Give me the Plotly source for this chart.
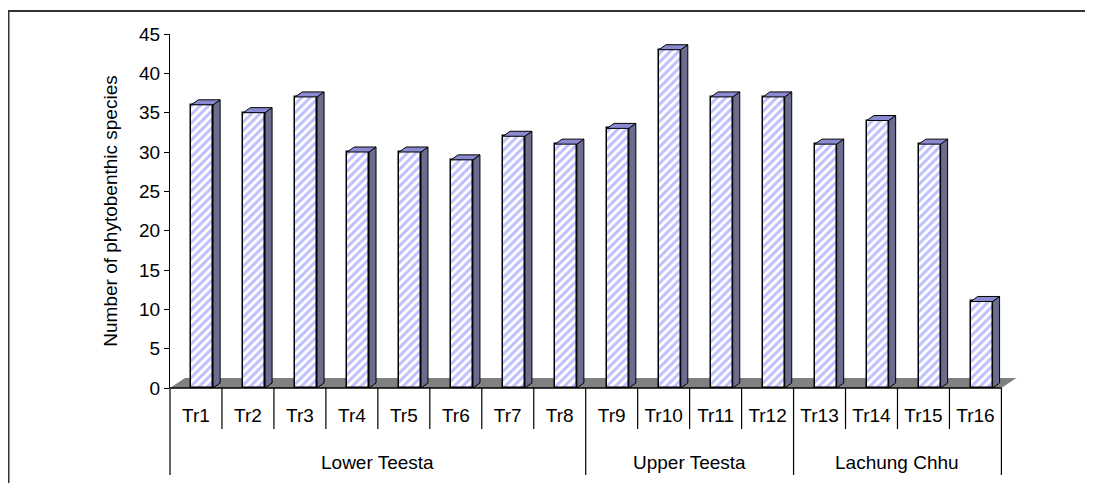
import plotly.graph_objects as go

# ---------------- data ----------------
categories = ["Tr1", "Tr2", "Tr3", "Tr4", "Tr5", "Tr6", "Tr7", "Tr8",
              "Tr9", "Tr10", "Tr11", "Tr12", "Tr13", "Tr14", "Tr15", "Tr16"]
species_counts = [36, 35, 37, 30, 30, 29, 32, 31, 33, 43, 37, 37, 31, 34, 31, 11]
groups = ["Lower Teesta", "Upper Teesta", "Lachung Chhu"]
group_sizes = [8, 4, 4]
y_ticks = [0, 5, 10, 15, 20, 25, 30, 35, 40, 45]
y_title = "Number of phytobenthic species"

# ---------------- geometry ----------------
OFF = 8                      # page body margin
W, H = 1093 - OFF, 483 - OFF
ML, MR, MT, MB = 170 - OFF, 76, 34 - OFF, 95
XMAX = 16.3
YMAX = 45
plot_w = W - ML - MR
plot_h = H - MT - MB
ux = plot_w / XMAX
uy = plot_h / YMAX


def pxx(px):
    return (px - OFF - ML) / plot_w


def pxy(py):
    return (H - MB - (py - OFF)) / plot_h


n = len(categories)
BAR_OFF, BAR_W = 0.12, 0.42
xs = [i + 0.5 + BAR_OFF for i in range(n)]
tick_pos = [i + 0.5 for i in range(n)]

bdx, bdy = 7 / ux, 5 / uy      # bar depth
fdx, fdy = 15 / ux, 10 / uy    # floor depth

FONT = "Liberation Sans, Arial, sans-serif"
FS = 19

fig = go.Figure()
fig.add_trace(go.Bar(
    x=xs, y=species_counts, width=BAR_W,
    marker=dict(color="white",
                line=dict(color="black", width=1.5),
                pattern=dict(shape="/", fgcolor="#7f7fff", bgcolor="white",
                             size=6, solidity=0.5)),
    hoverinfo="skip", showlegend=False,
))

shapes = []
# floor
shapes.append(dict(type="path", xref="x", yref="y", layer="below",
                   path=f"M 0,0 L {n},0 L {n + fdx},{fdy} L {fdx},{fdy} Z",
                   fillcolor="#808080", line=dict(width=0)))
# 3D side faces and caps
for x, v in zip(xs, species_counts):
    xl, xr = x - BAR_W / 2, x + BAR_W / 2
    shapes.append(dict(type="path", xref="x", yref="y", layer="above",
                       path=f"M {xr},0 L {xr},{v} L {xr + bdx},{v + bdy} L {xr + bdx},{bdy} Z",
                       fillcolor="#6c6c8e", line=dict(color="black", width=1)))
    shapes.append(dict(type="path", xref="x", yref="y", layer="above",
                       path=f"M {xl},{v} L {xr},{v} L {xr + bdx},{v + bdy} L {xl + bdx},{v + bdy} Z",
                       fillcolor="#8a8ad2", line=dict(color="black", width=1)))

# x baseline
shapes.append(dict(type="line", xref="paper", yref="paper",
                   x0=0, x1=n / XMAX, y0=0, y1=0,
                   line=dict(color="black", width=1.5)))
# dividers
long_bounds = [0]
for s in group_sizes:
    long_bounds.append(long_bounds[-1] + s)
for b in range(n + 1):
    y_end = pxy(475) if b in long_bounds else pxy(429)
    shapes.append(dict(type="line", xref="paper", yref="paper",
                       x0=b / XMAX, x1=b / XMAX, y0=0, y1=y_end,
                       line=dict(color="black", width=1.2)))
# outer border
shapes.append(dict(type="rect", xref="paper", yref="paper",
                   x0=pxx(8.5), x1=pxx(1120), y0=pxy(530), y1=pxy(11),
                   line=dict(color="#333333", width=2), fillcolor="rgba(0,0,0,0)"))

annotations = []
for gi, g in enumerate(groups):
    c = (long_bounds[gi] + long_bounds[gi + 1]) / 2
    annotations.append(dict(text=g, x=c / XMAX, y=pxy(462), xref="paper", yref="paper",
                            showarrow=False, xanchor="center", yanchor="middle",
                            font=dict(family=FONT, size=FS, color="black")))

fig.update_layout(
    width=W, height=H,
    margin=dict(l=ML, r=MR, t=MT, b=MB, autoexpand=False),
    paper_bgcolor="white", plot_bgcolor="white",
    shapes=shapes, annotations=annotations,
    font=dict(family=FONT, size=FS, color="black"),
    bargap=0,
    xaxis=dict(range=[0, XMAX], showline=False, showgrid=False, zeroline=False,
               tickmode="array", tickvals=tick_pos, ticktext=categories,
               ticks="", ticklabelstandoff=14,
               tickfont=dict(family=FONT, size=FS, color="black")),
    yaxis=dict(range=[0, YMAX], showline=True, linecolor="black", linewidth=1.2,
               showgrid=False, zeroline=False, tickmode="array", tickvals=y_ticks,
               ticks="outside", ticklen=5, tickcolor="black",
               tickfont=dict(family=FONT, size=FS, color="black"),
               title=dict(text=y_title, standoff=16,
                          font=dict(family=FONT, size=FS, color="black"))),
)

fig.write_html("out.html")
